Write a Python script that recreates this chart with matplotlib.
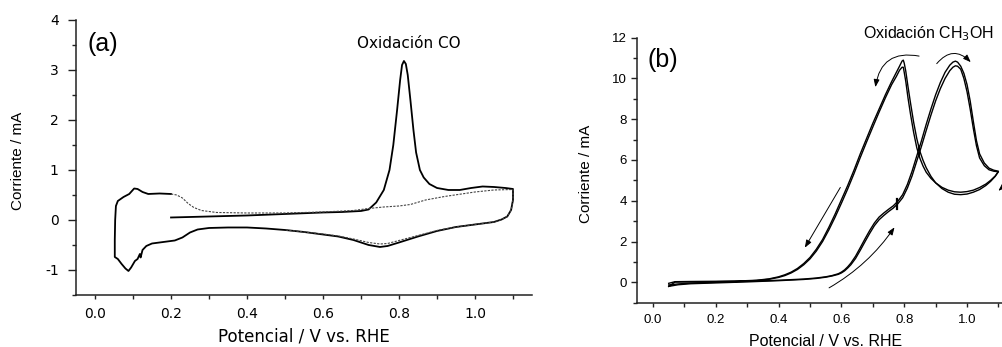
import numpy as np
import matplotlib
matplotlib.use("Agg")
import matplotlib.pyplot as plt
from matplotlib.ticker import MultipleLocator, FormatStrFormatter
from matplotlib.patches import FancyArrowPatch

plt.rcParams['axes.unicode_minus'] = False

# (a) CO stripping: first cycle (solid) and second cycle (dashed)
co_fwd_E = [0.20, 0.30, 0.40, 0.50, 0.60, 0.65, 0.70, 0.72, 0.74, 0.76, 0.775, 0.785, 0.795,
            0.803, 0.808, 0.813, 0.818, 0.823, 0.83, 0.838, 0.845, 0.855, 0.865, 0.88, 0.90,
            0.93, 0.96, 0.99, 1.02, 1.05, 1.08, 1.10]
co_fwd_I = [0.05, 0.07, 0.09, 0.12, 0.15, 0.16, 0.18, 0.21, 0.35, 0.60, 1.0, 1.5, 2.2,
            2.8, 3.1, 3.18, 3.12, 2.9, 2.4, 1.8, 1.35, 1.0, 0.85, 0.72, 0.64,
            0.60, 0.60, 0.64, 0.67, 0.66, 0.64, 0.62]
co_rev_E = [1.10, 1.10, 1.095, 1.085, 1.07, 1.05, 1.00, 0.95, 0.90, 0.85, 0.80, 0.77, 0.75,
            0.72, 0.68, 0.64, 0.60, 0.55, 0.50, 0.45, 0.40, 0.35, 0.30, 0.27, 0.25, 0.23,
            0.21, 0.18, 0.15, 0.135, 0.125, 0.12, 0.118, 0.112, 0.105, 0.095, 0.088, 0.08,
            0.07, 0.06, 0.052, 0.052, 0.053, 0.055, 0.06, 0.075, 0.09, 0.103, 0.112, 0.125,
            0.14, 0.17, 0.20]
co_rev_I = [0.62, 0.40, 0.20, 0.07, 0.01, -0.04, -0.09, -0.14, -0.22, -0.33, -0.45, -0.52, -0.54,
            -0.50, -0.40, -0.33, -0.29, -0.24, -0.20, -0.17, -0.15, -0.15, -0.16, -0.19, -0.25, -0.35,
            -0.41, -0.44, -0.47, -0.52, -0.60, -0.75, -0.68, -0.78, -0.82, -0.95, -1.02, -0.97,
            -0.88, -0.78, -0.74, -0.40, 0.0, 0.28, 0.38, 0.46, 0.52, 0.63, 0.62, 0.56,
            0.52, 0.53, 0.52]
blank_fwd_E = [0.20, 0.215, 0.23, 0.245, 0.26, 0.28, 0.32, 0.40, 0.50, 0.60, 0.68, 0.72, 0.76,
               0.80, 0.83, 0.87, 0.92, 1.00, 1.05, 1.10]
blank_fwd_I = [0.52, 0.50, 0.44, 0.33, 0.25, 0.19, 0.15, 0.14, 0.14, 0.16, 0.19, 0.23, 0.26,
               0.28, 0.31, 0.40, 0.47, 0.56, 0.60, 0.61]
blank_rev_E = [1.10, 1.10, 1.095, 1.085, 1.07, 1.05, 1.00, 0.95, 0.90, 0.85, 0.80, 0.77, 0.75,
               0.72, 0.68, 0.64, 0.60, 0.55, 0.50]
blank_rev_I = [0.61, 0.40, 0.20, 0.07, 0.01, -0.04, -0.09, -0.14, -0.21, -0.31, -0.41, -0.47, -0.48,
               -0.45, -0.38, -0.32, -0.28, -0.24, -0.20]

# (b) methanol oxidation, two consecutive cycles
meoh_fwd_E = [0.05, 0.08, 0.12, 0.20, 0.30, 0.40, 0.48, 0.52, 0.55, 0.57,
              0.59, 0.60, 0.61, 0.62, 0.63, 0.645, 0.66, 0.675, 0.69, 0.705,
              0.72, 0.735, 0.75, 0.765, 0.78, 0.795, 0.81, 0.825, 0.84, 0.855,
              0.87, 0.885, 0.90, 0.915, 0.93, 0.945, 0.955, 0.963, 0.97, 0.98,
              0.99, 1.00, 1.01, 1.02, 1.03, 1.04, 1.055, 1.07, 1.085, 1.10]
meoh_fwd_I1 = [-0.13, -0.08, -0.04, 0.00, 0.05, 0.10, 0.16, 0.21, 0.27, 0.33,
               0.42, 0.50, 0.61, 0.76, 0.94, 1.28, 1.70, 2.13, 2.54, 2.91,
               3.2, 3.4, 3.58, 3.75, 3.98, 4.3, 4.8, 5.45, 6.2, 6.95,
               7.75, 8.5, 9.2, 9.8, 10.3, 10.65, 10.8, 10.85, 10.8, 10.6,
               10.25, 9.7, 8.9, 7.9, 6.95, 6.3, 5.85, 5.6, 5.5, 5.45]
meoh_fwd_I2 = [-0.2, -0.12, -0.07, -0.03, 0.02, 0.08, 0.14, 0.19, 0.25, 0.31,
               0.39, 0.46, 0.56, 0.70, 0.86, 1.17, 1.57, 1.99, 2.4, 2.78,
               3.07, 3.28, 3.47, 3.64, 3.86, 4.15, 4.62, 5.22, 5.95, 6.68,
               7.45, 8.2, 8.9, 9.5, 10.0, 10.38, 10.55, 10.62, 10.6, 10.45,
               10.0, 9.35, 8.5, 7.55, 6.7, 6.1, 5.72, 5.52, 5.45, 5.42]
meoh_rev_E = [1.10, 1.09, 1.075, 1.06, 1.04, 1.02, 1.00, 0.98, 0.96, 0.94,
              0.92, 0.90, 0.885, 0.87, 0.86, 0.85, 0.84, 0.83, 0.82, 0.812,
              0.805, 0.80, 0.797, 0.793, 0.785, 0.775, 0.76, 0.74, 0.72, 0.70,
              0.68, 0.66, 0.64, 0.62, 0.60, 0.58, 0.56, 0.54, 0.52, 0.50,
              0.48, 0.46, 0.44, 0.42, 0.40, 0.37, 0.33, 0.28, 0.20, 0.12,
              0.07, 0.05]
meoh_rev_I1 = [5.45, 5.2, 4.95, 4.75, 4.55, 4.42, 4.33, 4.3, 4.32, 4.42,
               4.6, 4.88, 5.2, 5.62, 5.98, 6.42, 7.05, 7.85, 8.8, 9.6,
               10.35, 10.75, 10.9, 10.85, 10.6, 10.3, 9.85, 9.2, 8.5, 7.8,
               7.05, 6.3, 5.5, 4.75, 4.05, 3.35, 2.7, 2.1, 1.62, 1.22,
               0.92, 0.68, 0.5, 0.37, 0.27, 0.17, 0.1, 0.07, 0.05, 0.04,
               0.03, -0.05]
meoh_rev_I2 = [5.42, 5.22, 5.0, 4.82, 4.65, 4.52, 4.45, 4.42, 4.44, 4.52,
               4.66, 4.88, 5.1, 5.4, 5.7, 6.08, 6.6, 7.35, 8.25, 9.05,
               9.85, 10.3, 10.55, 10.55, 10.4, 10.1, 9.7, 9.05, 8.35, 7.62,
               6.88, 6.12, 5.33, 4.58, 3.88, 3.2, 2.57, 2.0, 1.53, 1.15,
               0.86, 0.63, 0.46, 0.33, 0.24, 0.15, 0.09, 0.05, 0.03, 0.02,
               0.01, -0.2]

# scan direction arrows in (b): start, end, curvature
arrows_b = [((0.601, 4.77), (0.479, 1.58), 0.0),
            ((0.553, -0.34), (0.774, 2.81), 0.12),
            ((0.856, 11.07), (0.707, 9.44), 0.55),
            ((0.898, 10.62), (1.018, 10.70), -0.6),
            ((1.12, 6.2), (1.093, 4.4), -0.4)]

fig = plt.figure(figsize=(10.03, 3.47), dpi=100)
ax_a = fig.add_axes([0.0758, 0.1499, 0.4546, 0.7925])
ax_b = fig.add_axes([0.6354, 0.1277, 0.3757, 0.7637])

sans_a = ['DejaVu Sans']
sans_b = ['Liberation Sans', 'DejaVu Sans']
narrow = ['Liberation Sans Narrow', 'Liberation Sans', 'DejaVu Sans']

for ax in (ax_a, ax_b):
    ax.spines['top'].set_visible(False)
    ax.spines['right'].set_visible(False)
    for s in ('left', 'bottom'):
        ax.spines[s].set_linewidth(1.1)
        ax.spines[s].set_color('#222222')
    ax.set_xlim(-0.05, 1.15)
    ax.xaxis.set_major_locator(MultipleLocator(0.2))
    ax.xaxis.set_minor_locator(MultipleLocator(0.1))
    ax.xaxis.set_major_formatter(FormatStrFormatter('%.1f'))
    ax.tick_params(which='major', direction='out', length=4.5, width=1.0, color='#222222')
    ax.tick_params(which='minor', direction='out', length=3, width=1.0, color='#222222')
    ax.tick_params(axis='x', which='both', length=3)

# panel a
ax_a.plot(co_fwd_E + co_rev_E, co_fwd_I + co_rev_I, color='black', lw=1.3)
ax_a.plot(blank_fwd_E + blank_rev_E, blank_fwd_I + blank_rev_I, color='#444444', lw=0.8,
          dashes=(2.0, 1.2))
ax_a.set_ylim(-1.5, 4)
ax_a.yaxis.set_major_locator(MultipleLocator(1))
ax_a.yaxis.set_minor_locator(MultipleLocator(0.5))
ax_a.tick_params(axis='y', which='major', length=5.5, pad=7)
ax_a.tick_params(axis='x', pad=6)
ax_a.set_yticks([-1, 0, 1, 2, 3, 4])
for lab in ax_a.get_xticklabels() + ax_a.get_yticklabels():
    lab.set_family(sans_a)
    lab.set_fontsize(10)
ax_a.set_xlabel('Potencial / V vs. RHE', family=sans_a, fontsize=12)
ax_a.xaxis.set_label_coords(0.5, -0.118)
ax_a.set_ylabel('Corriente / mA', family=sans_b, fontsize=11)
ax_a.yaxis.set_label_coords(-0.113, 0.487)
ax_a.text(0.026, 0.913, '(a)', transform=ax_a.transAxes, family=narrow, fontsize=18,
          ha='left', va='center')
ax_a.text(0.826, 3.52, 'Oxidación CO', family=sans_a, fontsize=11, ha='center', va='center')

# panel b
ax_b.plot(meoh_fwd_E + meoh_rev_E, meoh_fwd_I1 + meoh_rev_I1, color='black', lw=1.0)
ax_b.plot(meoh_fwd_E + meoh_rev_E, meoh_fwd_I2 + meoh_rev_I2, color='black', lw=1.0)
ax_b.plot([0.777, 0.777], [3.6, 4.1], color='black', lw=1.6)
for (p0, p1, rad) in arrows_b:
    arr = FancyArrowPatch(p0, p1, connectionstyle=f'arc3,rad={rad}',
                          arrowstyle='-|>,head_length=0.45,head_width=0.17',
                          mutation_scale=10, lw=0.7, color='black', clip_on=False)
    ax_b.add_patch(arr)
ax_b.set_ylim(-1, 12)
ax_b.yaxis.set_major_locator(MultipleLocator(2))
ax_b.yaxis.set_minor_locator(MultipleLocator(1))
ax_b.tick_params(axis='y', which='major', pad=3)
ax_b.tick_params(axis='x', pad=5)
for lab in ax_b.get_xticklabels() + ax_b.get_yticklabels():
    lab.set_family(sans_b)
    lab.set_fontsize(9.5)
ax_b.set_xlabel('Potencial / V vs. RHE', family=sans_b, fontsize=11.5)
ax_b.xaxis.set_label_coords(0.5, -0.118)
ax_b.set_ylabel('Corriente / mA', family=sans_b, fontsize=11)
ax_b.yaxis.set_label_coords(-0.118, 0.486)
ax_b.text(0.028, 0.914, '(b)', transform=ax_b.transAxes, family=narrow, fontsize=18,
          ha='left', va='center')
ax_b.text(0.876, 12.18, 'Oxidación CH$_3$OH', family=sans_b, fontsize=11.5,
          ha='center', va='center', clip_on=False)

fig.savefig('out.png', dpi=100)
